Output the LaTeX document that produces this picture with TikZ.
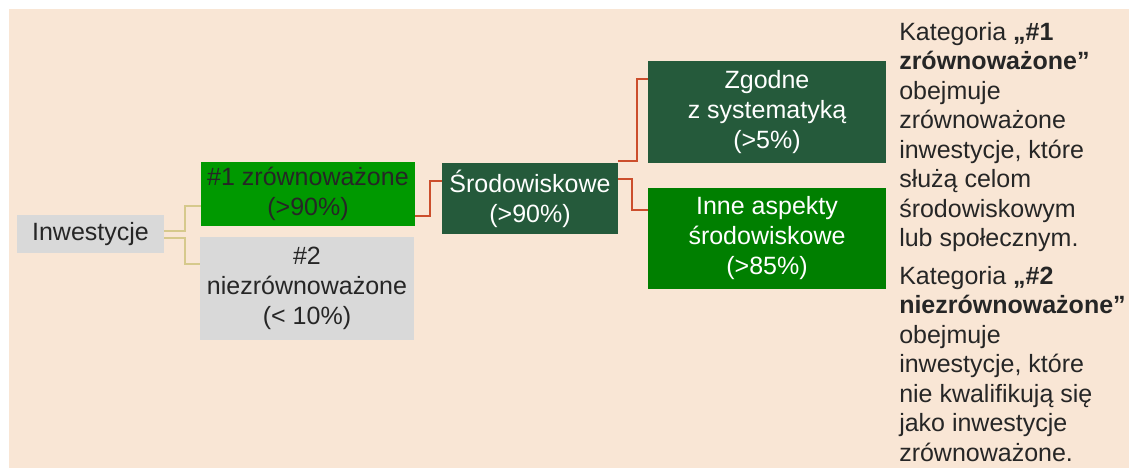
\documentclass[tikz,border=0pt]{standalone}
\usepackage{fontspec}
\setmainfont{Liberation Sans}
\usetikzlibrary{calc}

\definecolor{peach}{HTML}{F9E6D5}
\definecolor{boxgray}{HTML}{D9D9D9}
\definecolor{brightgreen}{HTML}{009900}
\definecolor{darkgreen}{HTML}{255A3B}
\definecolor{midgreen}{HTML}{007F00}
\definecolor{redline}{HTML}{CC4E2C}
\definecolor{yellowline}{HTML}{D6C98C}
\definecolor{inkgray}{HTML}{262626}

\begin{document}
\begin{tikzpicture}[x=0.75pt,y=-0.75pt,
  box/.style={rectangle,inner sep=0pt,align=center,text=inkgray,
    font=\fontsize{18.75}{22.5}\selectfont},
  graybox/.style={box,fill=boxgray},
  darkbox/.style={box,fill=darkgreen,text=white},
  yline/.style={draw=yellowline,line width=1.4pt},
  rline/.style={draw=redline,line width=1.5pt},
  note/.style={anchor=north west,inner sep=0pt,align=left,text=inkgray,
    font=\fontsize{18.75}{22.1}\selectfont}]
  \useasboundingbox (0,0) rectangle (1129,468);
  \fill[peach] (9,9) rectangle (1129,468);

  % boxes
  \node[graybox,minimum width=110.25pt,minimum height=28.5pt] (inw) at (90.5,234) {Inwestycje};
  \node[box,fill=brightgreen,text=black!85,minimum width=160.5pt,minimum height=48pt] (zr1) at (308,194) {\#1 zrównoważone\\(>90\%)};
  \node[graybox,minimum width=160.5pt,minimum height=77.25pt] (zr2) at (307,288.5) {\#2\\niezrównoważone\\(< 10\%)};
  \node[darkbox,minimum width=132pt,minimum height=53.25pt] (srod) at (530,198.5) {Środowiskowe\\(>90\%)};
  \node[darkbox,minimum width=178.5pt,minimum height=76.5pt] (zgod) at (767,112) {Zgodne\\z systematyką\\(>5\%)};
  \node[box,fill=midgreen,text=white,minimum width=178.5pt,minimum height=75.75pt] (inne) at (767,238.5) {Inne aspekty\\środowiskowe\\(>85\%)};

  % connectors
  \draw[yline] ($(inw.east)+(0,-3)$) -| ($(zr1.west)+(-16,12)$) -- ($(zr1.west)+(0,12)$);
  \draw[yline] ($(inw.east)+(0,4)$) -| ($(zr2.west)+(-15,-24.5)$) -- ($(zr2.west)+(0,-24.5)$);
  \draw[rline] ($(zr1.east)+(0,22)$) -| ($(srod.west)+(-12,-17.5)$) -- ($(srod.west)+(0,-17.5)$);
  \draw[rline] ($(srod.north east)+(0,-2)$) -| ($(zgod.west)+(-11,-33)$) -- ($(zgod.west)+(0,-33)$);
  \draw[rline] ($(srod.east)+(0,-19.5)$) -| ($(inne.west)+(-16,-28.5)$) -- ($(inne.west)+(0,-28.5)$);

  % notes
  \node[note] (kat1) at (899,22) {Kategoria \textbf{„\#1}\\\textbf{zrównoważone”}\\obejmuje\\zrównoważone\\inwestycje, które\\służą celom\\środowiskowym\\lub społecznym.};
  \node[note] (kat2) at (899,266) {Kategoria \textbf{„\#2}\\\textbf{niezrównoważone”}\\obejmuje\\inwestycje, które\\nie kwalifikują się\\jako inwestycje\\zrównoważone.};
\end{tikzpicture}
\end{document}
